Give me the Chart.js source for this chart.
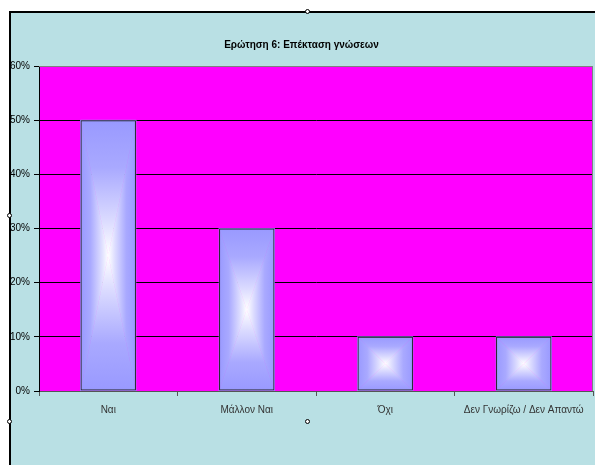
<!DOCTYPE html>
<html lang="el">
<head>
    <meta charset="UTF-8">
    <title>Ερώτηση 6: Επέκταση γνώσεων</title>
    <script src="https://cdn.jsdelivr.net/npm/chart.js"></script>
    <style>
        html, body { margin: 0; padding: 0; background: #ffffff; }
        body { width: 595px; height: 465px; position: relative; overflow: hidden; }
        .chart-box {
            position: absolute; left: 9px; top: 11px; width: 586px; height: 454px;
            background: #b9e0e4; border-left: 2px solid #000; border-top: 2px solid #000;
            box-sizing: border-box;
        }
        #chartWrap { position: absolute; left: 10px; top: 12px; width: 585px; height: 453px; }
        .handle {
            position: absolute; width: 5px; height: 5px; border: 1px solid #000;
            border-radius: 50%; background: #fff; box-sizing: border-box;
        }
    </style>
</head>
<body>

    <div class="chart-box"></div>
    <div id="chartWrap"><canvas id="q6Chart" width="585" height="453"></canvas></div>

    <!-- selection handles -->
    <div class="handle" style="left: 305px; top: 9px;"></div>
    <div class="handle" style="left: 7px; top: 213px;"></div>
    <div class="handle" style="left: 305px; top: 419px;"></div>
    <div class="handle" style="left: 7px; top: 419px;"></div>

    <script>
        // data
        const categories = ['Ναι', 'Μάλλον Ναι', 'Όχι', 'Δεν Γνωρίζω / Δεν Απαντώ'];
        const percentages = [50, 30, 10, 10];
        const yTicks = [0, 10, 20, 30, 40, 50, 60];

        // magenta plot area + grey frame
        const plotArea = {
            id: 'plotArea',
            beforeDraw(chart) {
                const { ctx, chartArea: a } = chart;
                ctx.save();
                ctx.fillStyle = '#ff00ff';
                ctx.fillRect(a.left, a.top, a.right - a.left, a.bottom - a.top);
                ctx.restore();
            },
            beforeDatasetsDraw(chart) {
                const { ctx, chartArea: a } = chart;
                ctx.save();
                ctx.strokeStyle = '#808080';
                ctx.lineWidth = 1;
                ctx.beginPath();
                ctx.moveTo(a.left, a.top + 0.5);
                ctx.lineTo(a.right - 0.5, a.top + 0.5);
                ctx.lineTo(a.right - 0.5, a.bottom);
                ctx.stroke();
                ctx.restore();
            }
        };

        // "from centre" box gradient fill for each bar
        const boxGradient = {
            id: 'boxGradient',
            beforeDatasetsDraw(chart) {
                const ctx = chart.ctx;
                chart.getDatasetMeta(0).data.forEach(bar => {
                    const l = bar.x - bar.width / 2, r = bar.x + bar.width / 2;
                    const t = Math.min(bar.y, bar.base), b = Math.max(bar.y, bar.base);
                    const cx = (l + r) / 2, cy = (t + b) / 2;
                    const tris = [
                        [[l, t], [r, t], [cx, t], [cx, cy]],
                        [[r, b], [l, b], [cx, b], [cx, cy]],
                        [[l, b], [l, t], [l, cy], [cx, cy]],
                        [[r, t], [r, b], [r, cy], [cx, cy]]
                    ];
                    tris.forEach(([p1, p2, g0, g1]) => {
                        const g = ctx.createLinearGradient(g0[0], g0[1], g1[0], g1[1]);
                        g.addColorStop(0, '#9999ff');
                        g.addColorStop(0.35, '#a9a9ff');
                        g.addColorStop(0.75, '#dcdcff');
                        g.addColorStop(1, '#ffffff');
                        ctx.save();
                        ctx.beginPath();
                        ctx.moveTo(p1[0], p1[1]);
                        ctx.lineTo(p2[0], p2[1]);
                        ctx.lineTo(cx, cy);
                        ctx.closePath();
                        ctx.fillStyle = g;
                        ctx.fill();
                        ctx.strokeStyle = g;
                        ctx.lineWidth = 0.6;
                        ctx.stroke();
                        ctx.restore();
                    });
                });
            }
        };

        const ctx = document.getElementById('q6Chart').getContext('2d');
        const q6Chart = new Chart(ctx, {
            type: 'bar',
            data: {
                labels: categories,
                datasets: [{
                    label: 'Επέκταση γνώσεων',
                    data: percentages,
                    backgroundColor: 'rgba(0,0,0,0)',
                    borderColor: '#222222',
                    borderWidth: 1,
                    borderSkipped: false,
                    barPercentage: 0.4,
                    categoryPercentage: 1.0
                }]
            },
            options: {
                responsive: false,
                animation: false,
                devicePixelRatio: 1,
                layout: { padding: { left: 0, right: 2, top: 0, bottom: 41 } },
                plugins: {
                    legend: { display: false },
                    tooltip: { enabled: false },
                    title: {
                        display: true,
                        text: 'Ερώτηση 6: Επέκταση γνώσεων',
                        color: '#000000',
                        font: { family: 'Liberation Sans', size: 10, weight: 'bold' },
                        padding: { top: 27, bottom: 15 }
                    }
                },
                scales: {
                    x: {
                        offset: true,
                        grid: {
                            offset: true,
                            drawOnChartArea: false,
                            drawTicks: true,
                            tickLength: 5,
                            color: '#555555'
                        },
                        border: { color: '#555555', width: 1 },
                        ticks: {
                            color: '#333333',
                            padding: 8,
                            maxRotation: 0,
                            autoSkip: false,
                            font: { family: 'Liberation Sans', size: 10 }
                        }
                    },
                    y: {
                        min: 0,
                        max: 60,
                        afterFit(scale) { scale.width = 29; },
                        afterBuildTicks(scale) { scale.ticks = yTicks.map(v => ({ value: v })); },
                        grid: {
                            color: c => (c.tick && c.tick.value === 60 ? '#808080' : '#000000'),
                            lineWidth: 1,
                            tickLength: 5,
                            tickColor: '#000000'
                        },
                        border: { color: '#000000', width: 1 },
                        ticks: {
                            color: '#000000',
                            padding: 4,
                            font: { family: 'Liberation Sans', size: 10 },
                            callback: v => v + '%'
                        }
                    }
                }
            },
            plugins: [plotArea, boxGradient]
        });
    </script>

</body>
</html>
